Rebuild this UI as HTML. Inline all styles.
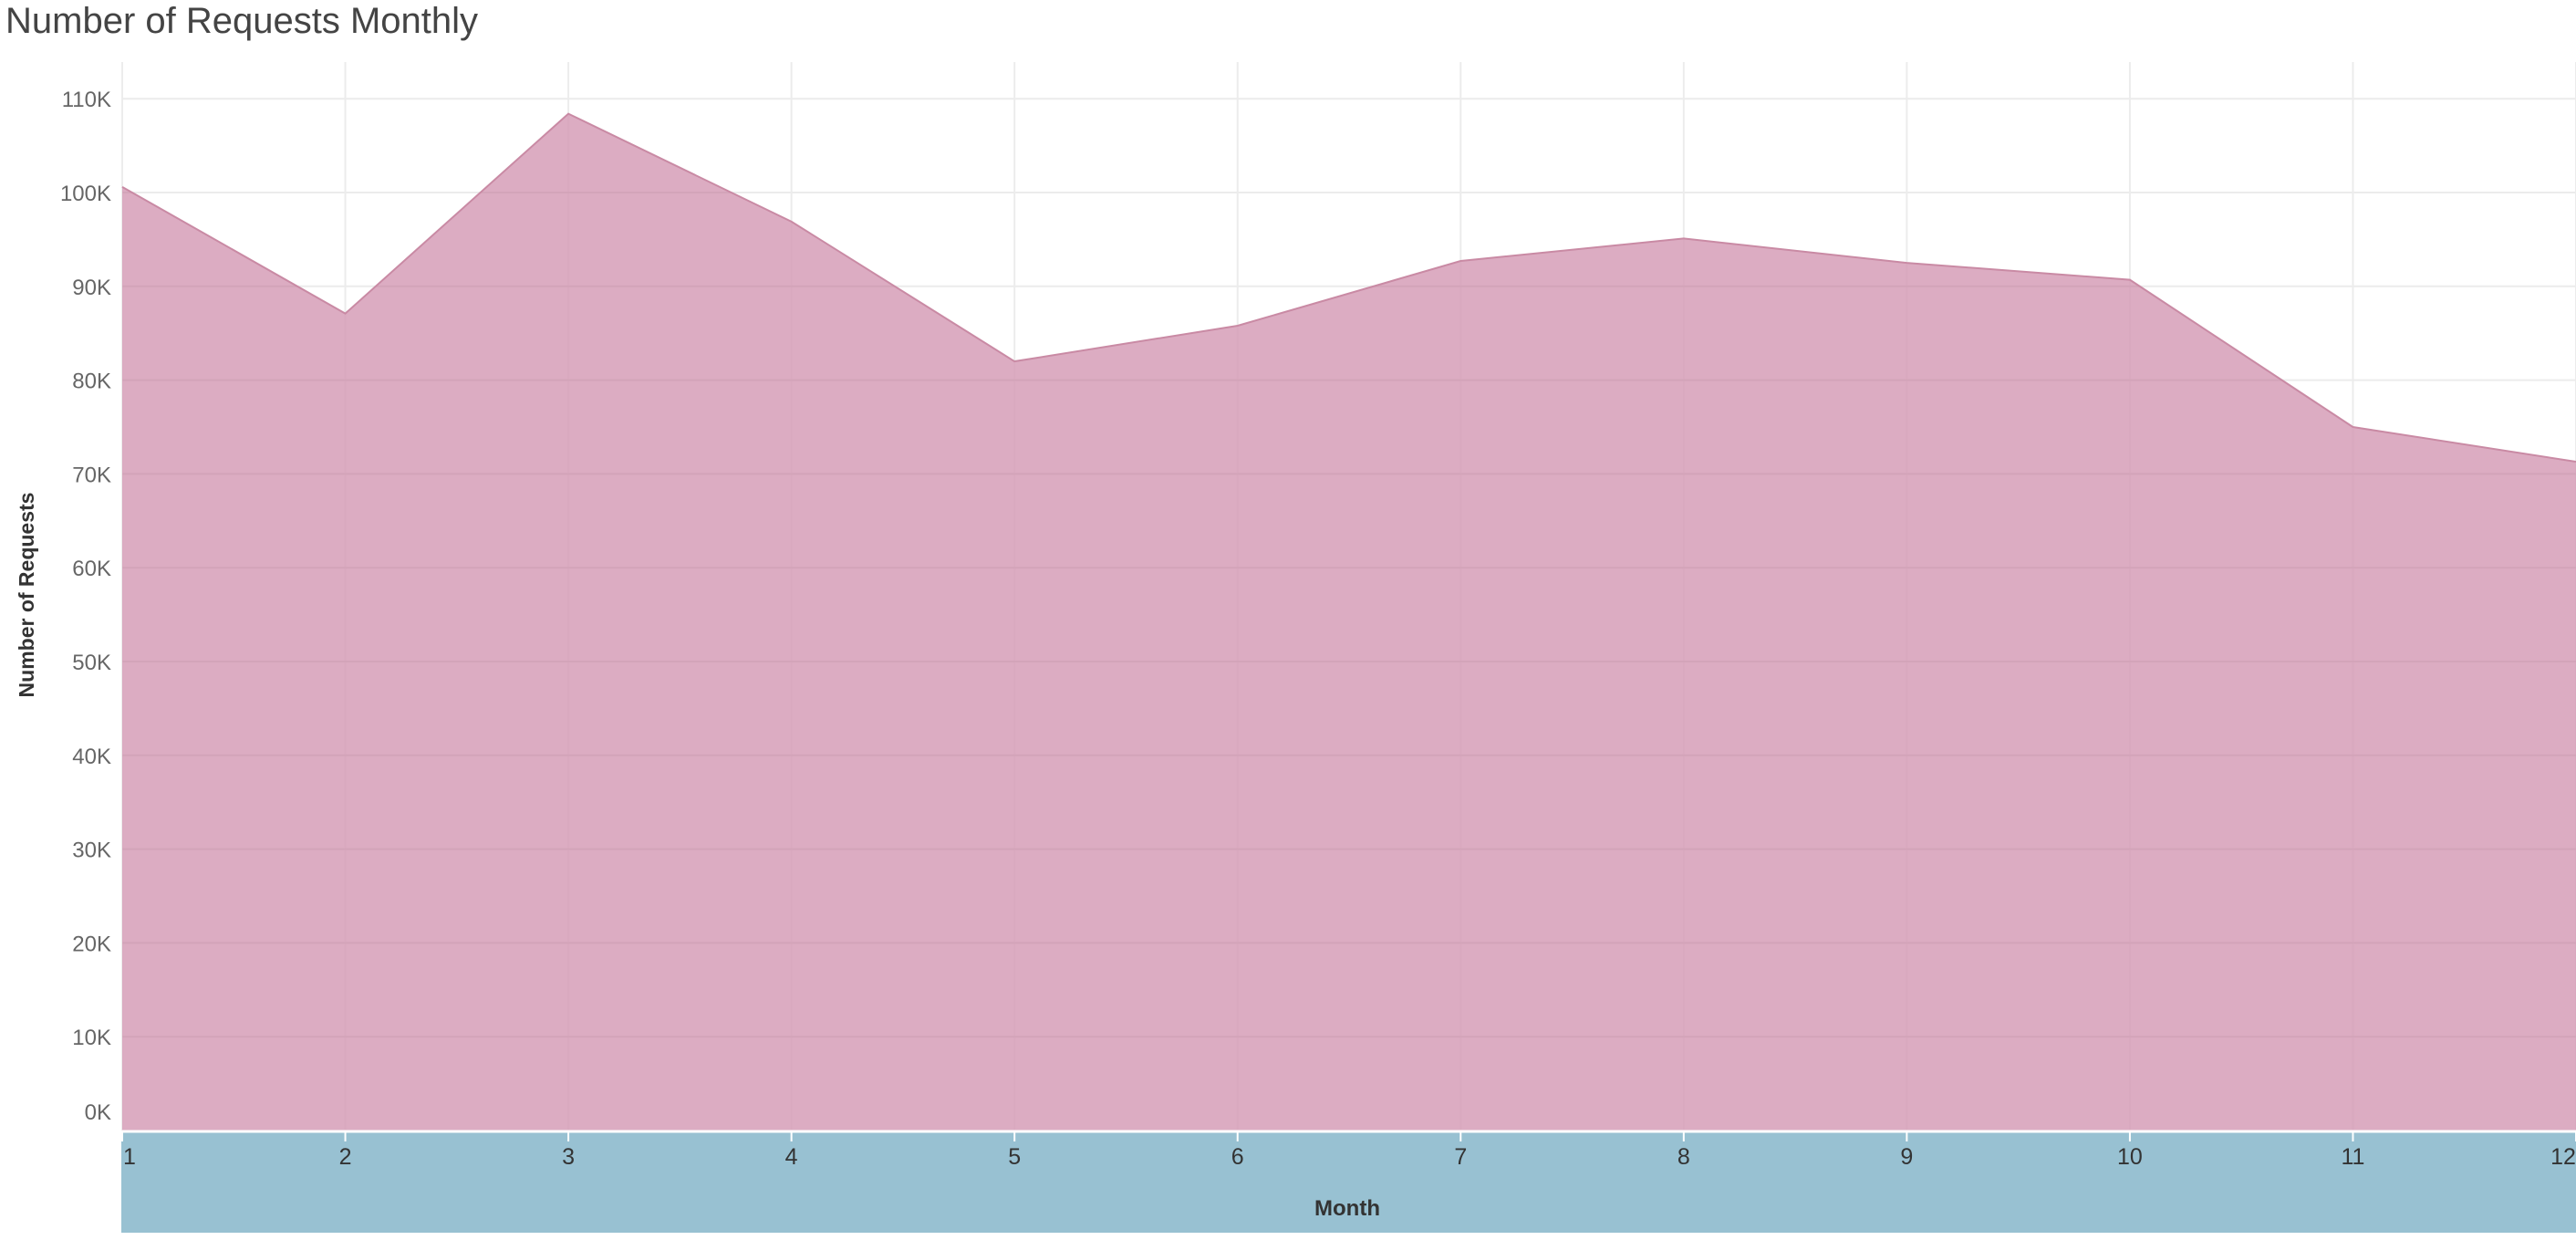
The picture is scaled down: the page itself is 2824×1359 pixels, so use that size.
<!DOCTYPE html>
<html><head><meta charset="utf-8"><style>
body{margin:0;background:#fff;width:2824px;height:1354px;overflow:hidden;font-family:"Liberation Sans",sans-serif}
svg text{font-family:"Liberation Sans",sans-serif}
</style></head><body>
<svg id="c" width="2824" height="1354">
<text x="6" y="36" font-size="40" fill="#444">Number of Requests Monthly</text>
</svg>
<script>
const months=[1,2,3,4,5,6,7,8,9,10,11,12];
const requests=[100600,87100,108400,96900,82000,85800,92700,95100,92500,90700,75000,71300];
const yTicks=[0,10000,20000,30000,40000,50000,60000,70000,80000,90000,100000,110000];
const yTickLabels=["0K","10K","20K","30K","40K","50K","60K","70K","80K","90K","100K","110K"];
const svg=document.getElementById('c');
const NS='http://www.w3.org/2000/svg';
const L=134,R=2824,T=68,B=1239;
const x=m=>L+(m-1)*(R-L)/11;
const y=v=>B-v*(102.8/10000);
function mk(t,a,p){const e=document.createElementNS(NS,t);for(const k in a)e.setAttribute(k,a[k]);(p||svg).appendChild(e);return e;}
let band=mk('rect',{x:L-1,y:B+2,width:R-L+1,height:1351-B-2,fill:'#98c1d2'});


yTicks.forEach((v,i)=>{
 let g=mk('line',{x1:L,x2:R,y1:y(v),y2:y(v),stroke:'#ececec','stroke-width':2});
 
 
 let t=mk('text',{x:122,y:(v===0?y(v)-12:y(v)+9),'font-size':24,fill:'#666','text-anchor':'end'});
 t.textContent=yTickLabels[i];
 
 
});
months.forEach(m=>{
 let g=mk('line',{x1:x(m),x2:x(m),y1:T,y2:B,stroke:'#ececec','stroke-width':2});
 
 
});
let d='M'+x(months[0])+','+B;
months.forEach((m,i)=>{d+=' L'+x(m)+','+y(requests[i]);});
d+=' L'+x(months[months.length-1])+','+B+' Z';
const defs=mk('defs',{});
const cp=mk('clipPath',{id:'areaClip'},defs);
mk('path',{d:d},cp);
let a=mk('path',{d:d,fill:'#d49ab4','fill-opacity':0.82});


const gg=mk('g',{'clip-path':'url(#areaClip)'});
yTicks.forEach(v=>{if(v>0){let g=mk('line',{x1:L,x2:R,y1:y(v),y2:y(v),stroke:'#c99cb0','stroke-opacity':0.35,'stroke-width':2},gg);
 
 }});
let ld='';
months.forEach((m,i)=>{ld+=(i?' L':'M')+x(m)+','+y(requests[i]);});
let ln=mk('path',{d:ld,fill:'none',stroke:'#c98aa4','stroke-width':2});


mk('line',{x1:L,x2:R,y1:B+1,y2:B+1,stroke:'#fff','stroke-width':3});
months.forEach(m=>{
 let tk=mk('line',{x1:x(m),x2:x(m),y1:B,y2:B+12,stroke:'#fff','stroke-width':2});
 
 
 let t=mk('text',{x:(m===1?x(m)+8:m===12?x(m)-14:x(m)),y:B+37,'font-size':25,fill:'#333','text-anchor':'middle'});
 t.textContent=String(m);
 
 
});
let xt=mk('text',{x:1477,y:1332,'font-size':24,'font-weight':'bold',fill:'#333','text-anchor':'middle'});
xt.textContent='Month';


let yt=mk('text',{x:37,y:652,'font-size':23,'font-weight':'bold',fill:'#333','text-anchor':'middle',transform:'rotate(-90 37 652)'});
yt.textContent='Number of Requests';


</script>
</body></html>
